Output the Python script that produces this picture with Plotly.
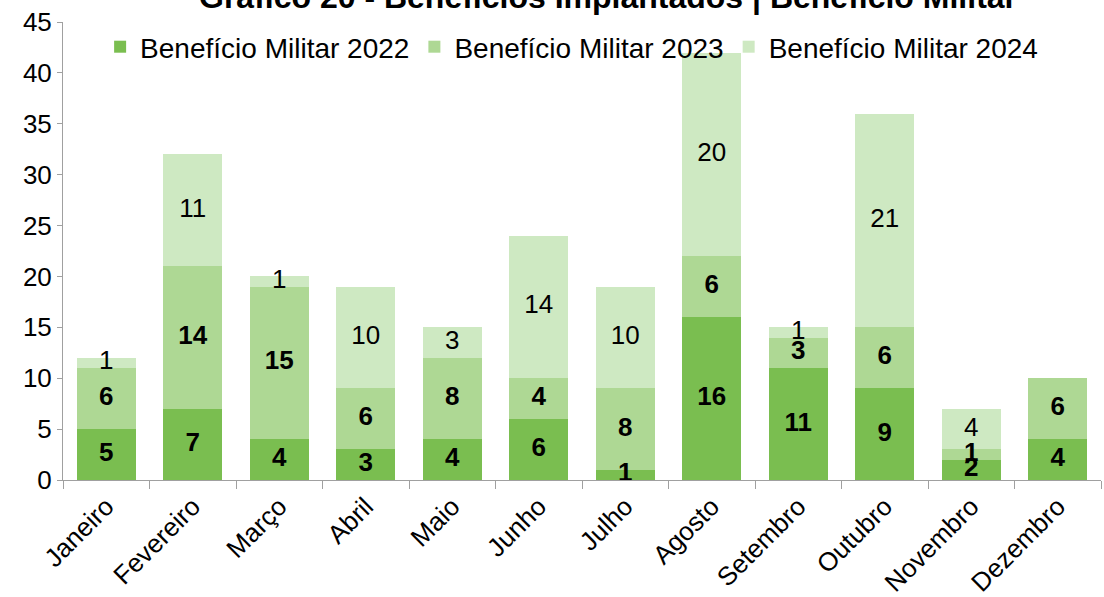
import plotly.graph_objects as go

meses = ['Janeiro', 'Fevereiro', 'Março', 'Abril', 'Maio', 'Junho', 'Julho',
         'Agosto', 'Setembro', 'Outubro', 'Novembro', 'Dezembro']
mil_2022 = [5, 7, 4, 3, 4, 6, 1, 16, 11, 9, 2, 4]
mil_2023 = [6, 14, 15, 6, 8, 4, 8, 6, 3, 6, 1, 6]
mil_2024 = [1, 11, 1, 10, 3, 14, 10, 20, 1, 21, 4, None]

series = [
    ('Benefício Militar 2022', mil_2022, '#7ABE50', True),
    ('Benefício Militar 2023', mil_2023, '#AED894', True),
    ('Benefício Militar 2024', mil_2024, '#CEE9C2', False),
]

fig = go.Figure()
base = [0] * len(meses)
for nome, vals, cor, negrito in series:
    fig.add_trace(go.Bar(x=meses, y=vals, name=nome, marker_color=cor,
                         marker_line_width=0))
    # rótulos no meio de cada segmento
    ys, txt = [], []
    for i, v in enumerate(vals):
        if v:
            ys.append(base[i] + v / 2)
            txt.append(f'<b>{v}</b>' if negrito else str(v))
            base[i] += v
        else:
            ys.append(None)
            txt.append('')
    fig.add_trace(go.Scatter(x=meses, y=ys, text=txt, mode='text',
                             textfont=dict(size=26, color='black'),
                             showlegend=False, hoverinfo='skip', cliponaxis=False))

# título cortado no topo, como na imagem original
fig.add_annotation(text='<b>Gráfico 20 - Benefícios Implantados | Benefício Militar</b>',
                   xref='paper', yref='paper', x=0.525, y=1.01, xanchor='center',
                   yanchor='bottom', showarrow=False, font=dict(size=32, color='black'))

fig.update_layout(
    barmode='stack',
    bargap=0.32,
    width=1104, height=597,
    margin=dict(l=63, r=3, t=22, b=117, autoexpand=False),
    paper_bgcolor='white', plot_bgcolor='white',
    font=dict(family='Liberation Sans, Arial', size=26, color='black'),
    legend=dict(orientation='h', x=0.49, xanchor='center', y=1.0, yanchor='top',
                font=dict(size=28), traceorder='normal', bgcolor='rgba(0,0,0,0)'),
    showlegend=True,
)
fig.update_xaxes(range=[-0.5, 11.5], showline=True, linecolor='#A0A0A0', linewidth=1,
                 automargin=False, ticks='outside', tickson='boundaries', ticklen=8,
                 tickcolor='#A0A0A0', tickangle=-45, tickfont=dict(size=26), showgrid=False)
fig.update_yaxes(range=[0, 45], dtick=5, showline=True, linecolor='#A0A0A0', linewidth=1,
                 automargin=False, ticks='outside', ticklen=5, tickcolor='#A0A0A0',
                 showgrid=False, zeroline=False, tickfont=dict(size=26))

fig.write_html('out.html', config={'displayModeBar': False},
               post_script="document.body.style.margin='0';")
